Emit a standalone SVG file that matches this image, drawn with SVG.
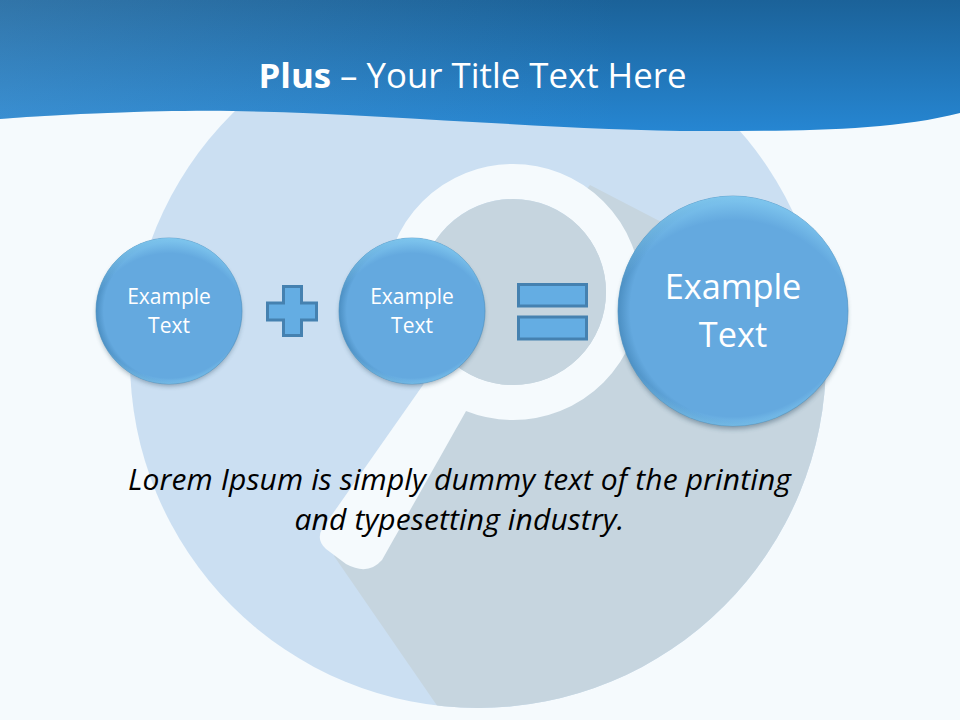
<svg xmlns="http://www.w3.org/2000/svg" width="960" height="720" viewBox="0 0 960 720">
<style>
.t{font-family:"Open Sans","Noto Sans","DejaVu Sans",sans-serif;text-anchor:middle}
.w{fill:#fff}
.s{font-size:21px}
.l{font-size:34.300px}
.op{fill:#64ade3;stroke:#4581b0;stroke-width:3}
.base{fill:#64a9df}
.top{fill:url(#topGlow)}
.bot{fill:url(#botGlow)}
.rim{fill:url(#rimDark);stroke:#4a8fc0;stroke-opacity:.6;stroke-width:1}
</style>
<defs>
<linearGradient id="banner" gradientUnits="userSpaceOnUse" x1="0" y1="131" x2="0" y2="0">
<stop offset="0" stop-color="#2686d2"/><stop offset="1" stop-color="#1b6299"/>
</linearGradient>
<linearGradient id="bannerLeft" gradientUnits="userSpaceOnUse" x1="0" y1="0" x2="620" y2="0">
<stop offset="0" stop-color="#8cc0e6" stop-opacity=".2"/><stop offset="1" stop-color="#8cc0e6" stop-opacity="0"/>
</linearGradient>
<radialGradient id="topGlow" cx=".5" cy=".66" r=".66">
<stop offset=".84" stop-color="#85cdf2" stop-opacity="0"/><stop offset="1" stop-color="#85cdf2" stop-opacity=".85"/>
</radialGradient>
<radialGradient id="botGlow" cx=".5" cy=".42" r=".58">
<stop offset=".93" stop-color="#85cdf2" stop-opacity="0"/><stop offset="1" stop-color="#85cdf2" stop-opacity=".6"/>
</radialGradient>
<radialGradient id="rimDark" cx=".53" cy=".5" r=".53">
<stop offset=".9" stop-color="#3c7eb0" stop-opacity="0"/><stop offset="1" stop-color="#3c7eb0" stop-opacity=".6"/>
</radialGradient>
<filter id="shadow" x="-15%" y="-15%" width="130%" height="135%">
<feGaussianBlur stdDeviation="2.500"/>
</filter>
<clipPath id="disc"><circle cx="478" cy="360" r="348"/></clipPath>
</defs>
<rect id="background" width="960" height="720" fill="#f5fafd"/>
<g id="magnifier">
<circle cx="478" cy="360" r="348" fill="#cbdff2"/>
<path clip-path="url(#disc)" fill="#c6d5df" d="M590 185 L860 325 L860 720 L447 720 L334 556 L420 400 Z"/>
<path fill="#f5fafd" d="M430 375 L322 529 Q316 540 326 549 L346 564 Q368 576 382 560 L470 404 Z"/>
<circle cx="513" cy="292" r="110.500" fill="none" stroke="#f5fafd" stroke-width="35"/>
<circle cx="513" cy="292" r="93" fill="#c6d5df"/>
</g>
<g id="banner-shape">
<path fill="url(#banner)" d="M0 0H960V113C890 131 800 131 704 131C560 131 380 113 233 111C170 110 80 113 0 119Z"/>
<path fill="url(#bannerLeft)" d="M0 0H960V113C890 131 800 131 704 131C560 131 380 113 233 111C170 110 80 113 0 119Z"/>
<text class="t w" x="472.500" y="88" font-size="34.800"><tspan font-weight="700">Plus</tspan> – Your Title Text Here</text>
</g>
<g id="node-left">
<circle cx="169" cy="314" r="72" fill="#1d3d55" opacity=".4" filter="url(#shadow)"/>
<circle class="base" cx="169" cy="311" r="73"/><circle class="rim" cx="169" cy="311" r="73"/><circle class="top" cx="169" cy="311" r="73"/><circle class="bot" cx="169" cy="311" r="73"/>
<text class="t w s" x="169" y="304">Example</text><text class="t w s" x="169" y="333">Text</text>
</g>
<g id="plus">
<path class="op" d="M283.500 286.500H301.500V303H316.500V320H301.500V335.500H283.500V320H267.500V303H283.500Z"/>
</g>
<g id="node-middle">
<circle cx="412" cy="314" r="72" fill="#1d3d55" opacity=".4" filter="url(#shadow)"/>
<circle class="base" cx="412" cy="311" r="73"/><circle class="rim" cx="412" cy="311" r="73"/><circle class="top" cx="412" cy="311" r="73"/><circle class="bot" cx="412" cy="311" r="73"/>
<text class="t w s" x="412" y="304">Example</text><text class="t w s" x="412" y="333">Text</text>
</g>
<g id="equals">
<rect class="op" x="518.500" y="284.500" width="68" height="21.500"/>
<rect class="op" x="518.500" y="317" width="68" height="22"/>
</g>
<g id="node-right">
<circle cx="733" cy="315" r="114" fill="#1d3d55" opacity=".4" filter="url(#shadow)"/>
<circle class="base" cx="733" cy="311" r="115"/><circle class="rim" cx="733" cy="311" r="115"/><circle class="top" cx="733" cy="311" r="115"/><circle class="bot" cx="733" cy="311" r="115"/>
<text class="t w l" x="733" y="299">Example</text><text class="t w l" x="733" y="347">Text</text>
</g>
<g id="caption" fill="#000" font-style="italic" font-size="30" letter-spacing=".13">
<text class="t" x="459.500" y="490">Lorem Ipsum is simply dummy text of the printing</text>
<text class="t" x="459.500" y="530">and typesetting industry.</text>
</g>
</svg>
